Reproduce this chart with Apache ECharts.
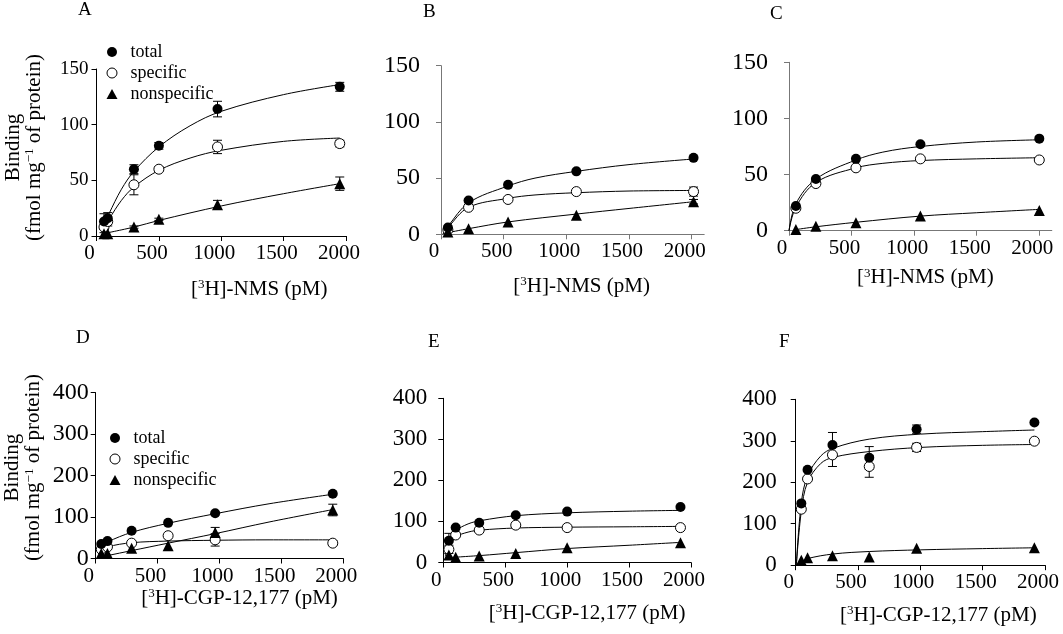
<!DOCTYPE html>
<html><head><meta charset="utf-8">
<script src="https://cdn.jsdelivr.net/npm/echarts@6/dist/echarts.min.js"></script>
<style>html,body{margin:0;padding:0;background:#fff}#c{width:1063px;height:634px}</style>
</head><body><div id="c"></div>
<script>
// ---------- DATA ----------
const panelLetters = ['A', 'B', 'C', 'D', 'E', 'F'];
const seriesNames = ['total', 'specific', 'nonspecific'];
const xTickValues = [0, 500, 1000, 1500, 2000];

// Panel A ([3H]-NMS)
const xA = [60, 90, 300, 500, 970, 1950];
const totalA = [13, 16, 60, 81, 114, 134];
const specA = [8, 13, 46, 60, 80, 83];
const nonA = [2, 2, 8, 15, 28, 47];
const totalErrA = [7, 5, 4, 3, 7, 4];
const specErrA = [5, 4, 9, 2, 6, 3];
const nonErrA = [0, 0, 1, 1, 4, 6];
const fitTotalA = [[50, 8], [100, 20], [200, 42], [300, 58], [500, 80], [750, 99], [1000, 112], [1500, 127], [1950, 136]];
const fitSpecA = [[50, 6], [100, 15], [200, 32], [300, 44], [500, 59], [750, 70], [1000, 77], [1500, 85], [1950, 88]];
const fitNonA = [[50, 2], [300, 8], [500, 14], [1000, 27], [1500, 38], [1950, 47]];

// Panel B
const xB = [55, 220, 535, 1080, 2015];
const totalB = [6, 30, 44, 56, 68];
const specB = [4, 24, 31, 38, 38];
const nonB = [2, 5, 11, 17, 29];
const totalErrB = [0, 0, 0, 0, 0];
const specErrB = [0, 0, 0, 0, 4];
const nonErrB = [0, 0, 0, 0, 2];
const fitTotalB = [[15, 0], [55, 7], [220, 28], [535, 43], [750, 50], [1080, 56], [1500, 62], [2015, 67]];
const fitSpecB = [[15, 0], [55, 6], [220, 24], [535, 32], [750, 35], [1080, 37], [1500, 38.5], [2015, 39]];
const fitNonB = [[55, 1.5], [220, 5], [535, 11], [1080, 18], [1500, 23], [2015, 29]];

// Panel C
const xC = [55, 215, 535, 1050, 2000];
const totalC = [22, 46, 64, 77, 82];
const specC = [20, 42, 56, 64, 63];
const nonC = [1, 4, 7, 13, 18];
const totalErrC = [0, 0, 0, 0, 0];
const specErrC = [0, 0, 0, 0, 0];
const nonErrC = [0, 0, 0, 0, 0];
const fitTotalC = [[0, 0], [55, 24], [215, 46], [535, 63], [750, 70], [1050, 75], [1500, 79], [2000, 81]];
const fitSpecC = [[0, 0], [55, 21], [215, 43], [535, 56], [750, 60], [1050, 62.5], [1500, 64], [2000, 65]];
const fitNonC = [[55, 1], [215, 3.5], [535, 7.5], [1050, 13], [1500, 16], [2000, 19]];

// Panel D ([3H]-CGP-12,177)
const xD = [45, 95, 290, 585, 965, 1915];
const totalD = [35, 42, 67, 86, 109, 156];
const specD = [22, 28, 37, 55, 45, 37];
const nonD = [12, 12, 25, 31, 63, 117];
const totalErrD = [0, 0, 0, 0, 0, 0];
const specErrD = [0, 0, 0, 0, 15, 6];
const nonErrD = [0, 0, 0, 0, 12, 14];
const fitTotalD = [[45, 30], [95, 40], [290, 63], [585, 85], [965, 108], [1400, 132], [1915, 155]];
const fitSpecD = [[45, 18], [95, 28], [290, 38], [585, 42], [965, 44], [1400, 45], [1915, 45]];
const fitNonD = [[45, 4], [95, 7], [290, 19], [585, 37], [965, 60], [1400, 88], [1915, 118]];

// Panel E
const xE = [45, 100, 290, 585, 1000, 1915];
const totalE = [53, 85, 97, 115, 124, 135];
const specE = [32, 67, 79, 91, 85, 85];
const nonE = [18, 13, 16, 22, 36, 48];
const totalErrE = [18, 0, 0, 0, 0, 0];
const specErrE = [10, 0, 0, 0, 0, 0];
const nonErrE = [0, 0, 0, 0, 0, 0];
const fitTotalE = [[15, 20], [45, 52], [100, 77], [200, 94], [300, 102], [585, 114], [1000, 121], [1500, 125], [1915, 127]];
const fitSpecE = [[15, 15], [45, 38], [100, 62], [200, 74], [300, 79], [585, 84], [1000, 86], [1500, 87], [1915, 88]];
const fitNonE = [[45, 12], [300, 17], [585, 24], [1000, 34], [1500, 42], [1915, 49]];

// Panel F
const xF = [45, 95, 295, 590, 970, 1915];
const totalF = [149, 230, 290, 259, 328, 344];
const specF = [135, 208, 266, 238, 284, 299];
const nonF = [12, 18, 23, 20, 41, 42];
const totalErrF = [0, 0, 30, 27, 10, 0];
const specErrF = [0, 0, 28, 26, 10, 0];
const nonErrF = [0, 0, 0, 0, 0, 0];
const fitTotalF = [[5, 0], [45, 150], [95, 215], [200, 263], [300, 282], [590, 304], [1000, 316], [1500, 322], [1915, 326]];
const fitSpecF = [[5, 0], [45, 130], [95, 200], [200, 245], [300, 260], [590, 274], [1000, 284], [1500, 289], [1915, 291]];
const fitNonF = [[45, 8], [95, 16], [300, 27], [590, 33], [1000, 37], [1500, 40], [1915, 42]];

const xNameNMS = '[{sup|3}H]-NMS (pM)';
const xNameCGP = '[{sup|3}H]-CGP-12,177 (pM)';
const yName = 'Binding\n(fmol mg{sup|\u22121} of protein)';

// ---------- LAYOUT ----------
const FONT = "'Liberation Serif', 'Times New Roman', serif";
const panels = [
  {x: xA, t: totalA, s: specA, n: nonA, et: totalErrA, es: specErrA, en: nonErrA, ft: fitTotalA, fs: fitSpecA, fn: fitNonA,
   grid: {left: 96.5, top: 69, width: 249.5, height: 167}, xmax: 2000, ymax: 150, yint: 50, ax: '#000', xname: xNameNMS, xgap: 42, xpad: 76, yname: true, ypad: 10, title: [78, 1], yfs: 19, ym: 8},
  {x: xB, t: totalB, s: specB, n: nonB, et: totalErrB, es: specErrB, en: nonErrB, ft: fitTotalB, fs: fitSpecB, fn: fitNonB,
   grid: {left: 441, top: 65.7, width: 263.2, height: 168.6}, xmax: 2100, ymax: 150, yint: 50, ax: '#777', xname: xNameNMS, xgap: 41, xpad: 18, title: [423, 3], yfs: 24, ym: 21},
  {x: xC, t: totalC, s: specC, n: nonC, et: totalErrC, es: specErrC, en: nonErrC, ft: fitTotalC, fs: fitSpecC, fn: fitNonC,
   grid: {left: 789, top: 62.3, width: 262.8, height: 168.4}, xmax: 2100, ymax: 150, yint: 50, ax: '#777', xname: xNameNMS, xgap: 36, xpad: 10, title: [770, 5], yfs: 24, ym: 21},
  {x: xD, t: totalD, s: specD, n: nonD, et: totalErrD, es: specErrD, en: nonErrD, ft: fitTotalD, fs: fitSpecD, fn: fitNonD,
   grid: {left: 95.7, top: 392.7, width: 247.6, height: 165.8}, xmax: 2000, ymax: 400, yint: 100, ax: '#000', xname: xNameCGP, xgap: 27, xpad: 40, yname: true, ypad: 16, title: [76, 329], yfs: 24, ym: 7},
  {x: xE, t: totalE, s: specE, n: nonE, et: totalErrE, es: specErrE, en: nonErrE, ft: fitTotalE, fs: fitSpecE, fn: fitNonE,
   grid: {left: 443.3, top: 398.3, width: 247.7, height: 164.2}, xmax: 2000, ymax: 400, yint: 100, ax: '#000', xname: xNameCGP, xgap: 40, xpad: 40, title: [428, 333], yfs: 23, ym: 16},
  {x: xF, t: totalF, s: specF, n: nonF, et: totalErrF, es: specErrF, en: nonErrF, ft: fitTotalF, fs: fitSpecF, fn: fitNonF,
   grid: {left: 795.7, top: 399.3, width: 249.3, height: 165.9}, xmax: 2000, ymax: 400, yint: 100, ax: '#000', xname: xNameCGP, xgap: 39, xpad: 36, title: [779, 333], yfs: 23, ym: 19}
];

const supRich = {sup: {fontFamily: FONT, fontSize: 13, verticalAlign: 'top', lineHeight: 13, color: '#000'}};

function errRender(params, api) {
  const x = api.value(0), y = api.value(1), e = api.value(2);
  const a = api.coord([x, y + e]), b = api.coord([x, y - e]);
  const w = 4.5, st = {stroke: '#000', lineWidth: 1};
  return {type: 'group', children: [
    {type: 'line', shape: {x1: a[0], y1: a[1], x2: b[0], y2: b[1]}, style: st},
    {type: 'line', shape: {x1: a[0] - w, y1: a[1], x2: a[0] + w, y2: a[1]}, style: st},
    {type: 'line', shape: {x1: b[0] - w, y1: b[1], x2: b[0] + w, y2: b[1]}, style: st}
  ]};
}
const plainNum = v => String(v);

const grids = [], xAxes = [], yAxes = [], series = [], titles = [];
panels.forEach((p, i) => {
  grids.push(Object.assign({containLabel: false}, p.grid));
  titles.push({text: panelLetters[i], left: p.title[0], top: p.title[1], padding: 0,
    textStyle: {fontFamily: FONT, fontSize: 19, fontWeight: 'normal', color: '#000'}});
  const axLine = {show: true, onZero: false, lineStyle: {color: p.ax, width: 1}};
  xAxes.push({
    type: 'value', gridIndex: i, min: 0, max: p.xmax, interval: 500,
    axisLine: axLine, splitLine: {show: false},
    axisTick: {show: true, inside: false, length: 5, lineStyle: {color: p.ax}, customValues: xTickValues},
    axisLabel: {fontFamily: FONT, fontSize: 21, color: '#000', margin: 7, padding: [0, 14, 0, 0], customValues: xTickValues, formatter: plainNum},
    name: p.xname, nameLocation: 'middle', nameGap: p.xgap,
    nameTextStyle: {fontFamily: FONT, fontSize: 21, color: '#000', lineHeight: 22, padding: [0, 0, 0, p.xpad], rich: supRich}
  });
  const yAx = {
    type: 'value', gridIndex: i, min: 0, max: p.ymax, interval: p.yint,
    axisLine: axLine, splitLine: {show: false},
    axisTick: {show: true, inside: false, length: 5, lineStyle: {color: p.ax}},
    axisLabel: {fontFamily: FONT, fontSize: p.yfs, color: '#000', margin: p.ym, formatter: plainNum}
  };
  if (p.yname) {
    Object.assign(yAx, {name: yName, nameLocation: 'middle', nameRotate: 90, nameGap: 52,
      nameTextStyle: {fontFamily: FONT, fontSize: 21, color: '#000', lineHeight: 21, padding: [0, 0, 0, p.ypad], rich: supRich}});
  }
  yAxes.push(yAx);

  [p.ft, p.fs, p.fn].forEach((fit, k) => {
    series.push({type: 'line', name: 'fit-' + panelLetters[i] + '-' + k, xAxisIndex: i, yAxisIndex: i,
      data: fit, smooth: 0.35, showSymbol: false, silent: true, z: 2,
      lineStyle: {color: '#000', width: 1}});
  });
  [[p.t, p.et], [p.s, p.es], [p.n, p.en]].forEach(([vals, errs]) => {
    const d = [];
    p.x.forEach((xv, j) => { if (errs[j] > 0) d.push([xv, vals[j], errs[j]]); });
    if (d.length) series.push({type: 'custom', xAxisIndex: i, yAxisIndex: i, renderItem: errRender,
      data: d, encode: {x: 0, y: 1}, silent: true, z: 3});
  });
  const pts = v => p.x.map((xv, j) => [xv, v[j]]);
  series.push({type: 'scatter', name: 'total', xAxisIndex: i, yAxisIndex: i, data: pts(p.t), symbol: 'circle', symbolSize: 10,
    itemStyle: {color: '#000', opacity: 1}, z: 5, silent: true});
  series.push({type: 'scatter', name: 'specific', xAxisIndex: i, yAxisIndex: i, data: pts(p.s), symbol: 'circle', symbolSize: 10,
    itemStyle: {color: '#fff', borderColor: '#000', borderWidth: 1, opacity: 1}, z: 4, silent: true});
  series.push({type: 'scatter', name: 'nonspecific', xAxisIndex: i, yAxisIndex: i, data: pts(p.n), symbol: 'triangle', symbolSize: 11,
    itemStyle: {color: '#000', opacity: 1}, z: 4, silent: true});
});

const legendData = [
  {name: 'total', icon: 'circle', itemStyle: {color: '#000', borderWidth: 0}},
  {name: 'specific', icon: 'circle', itemStyle: {color: '#fff', borderColor: '#000', borderWidth: 1}},
  {name: 'nonspecific', icon: 'triangle', itemStyle: {color: '#000', borderWidth: 0}}
];
const legendBase = {orient: 'vertical', selectedMode: false, itemWidth: 11, itemHeight: 10, itemGap: 1, padding: 0,
  textStyle: {fontFamily: FONT, fontSize: 18, color: '#000', lineHeight: 20, padding: [0, 0, 0, 8]}, data: legendData};

const chart = echarts.init(document.getElementById('c'), null, {renderer: 'canvas'});
chart.setOption({
  backgroundColor: '#fff',
  animation: false,
  title: titles,
  legend: [
    Object.assign({left: 106.5, top: 42}, legendBase),
    Object.assign({left: 109.5, top: 428, itemGap: 3}, legendBase)
  ],
  grid: grids,
  xAxis: xAxes,
  yAxis: yAxes,
  series: series
});
</script>
</body></html>
